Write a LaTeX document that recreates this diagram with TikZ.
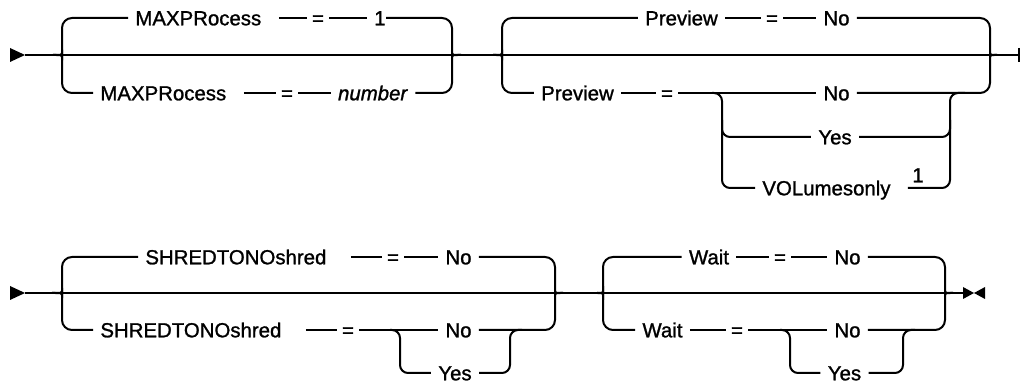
\documentclass[tikz,border=0pt]{standalone}
\usepackage{fontspec}
\setmainfont{Liberation Sans}[FakeBold=1.2]
\tikzset{
  rail/.style={line width=1pt},
  turn/.style={rail, rounded corners=5pt},
  nest/.style={rail, rounded corners=4pt},
  kw/.style={inner xsep=3.5pt, inner ysep=0pt, text height=7.3pt, text depth=0pt, font=\fontsize{10.2}{12}\selectfont},
  sym/.style={kw, inner xsep=2.5pt},
}
\begin{document}
\begin{tikzpicture}[x=0.5pt, y=-0.5pt]
	\useasboundingbox (0,0) rectangle (1021,383);

	% row one: MAXPRocess and Preview
	\fill (10,48) -- (25,55) -- (10,62) -- cycle;
	\coordinate (start1) at (25,55);
	\coordinate (g1l) at (53,55);
	\coordinate (g1r) at (461,55);
	\coordinate (g2l) at (493,55);
	\coordinate (g2r) at (997,55);
	\coordinate (end1) at (1019,55);

	\node[kw, text width=68pt, align=left, anchor=west](maxA) at (128,18){MAXPRocess};
	\node[sym](eqA) at (318,18){=};
	\node[kw, inner xsep=0pt, text width=9pt, align=right, anchor=east](oneA) at (386,18){1};
	\node[kw, text width=68pt, align=left, anchor=west](maxB) at (93,93){MAXPRocess};
	\node[sym](eqB) at (287,93){=};
	\node[kw](numB) at (373,93){\textit{number}};

	\node[kw](prevA) at (681.5,18){Preview};
	\node[sym](eqC) at (772,18){=};
	\node[kw](noA) at (836.5,18){No};
	\node[kw](prevB) at (577.5,93){Preview};
	\node[sym](eqD) at (667,93){=};
	\coordinate (sp1) at (712,93);
	\node[kw](noB) at (836.5,93){No};
	\node[kw](yesA) at (835,137){Yes};
	\node[kw, text width=69pt, align=left, anchor=west](volA) at (755,188){VOLumesonly};
	\node[kw](fnA) at (918,175){1};
	\coordinate (jn1) at (965,93);

	% main line
	\draw[rail] (start1) -- (g1l) -- (g1r) -- (g2l) -- (g2r) -- (end1);
	\draw[rail] (1019,48) -- (1019,62);

	% braces
	\draw[turn] (g1l) .. controls (62,55) .. (62,47) -- (62,18) -- (maxA);
	\draw[turn] (g1l) .. controls (62,55) .. (62,63) -- (62,93) -- (maxB);
	\draw[turn] (oneA) -- (452,18) -- (452,47) .. controls (452,55) .. (g1r);
	\draw[turn] (numB) -- (452,93) -- (452,63) .. controls (452,55) .. (g1r);
	\draw[turn] (g2l) .. controls (502,55) .. (502,47) -- (502,18) -- (prevA);
	\draw[turn] (g2l) .. controls (502,55) .. (502,63) -- (502,93) -- (prevB);
	\draw[turn] (noA) -- (990,18) -- (990,47) .. controls (990,55) .. (g2r);
	\draw[turn] (noB) -- (990,93) -- (990,63) .. controls (990,55) .. (g2r);

	% rails
	\draw[rail] (maxA) -- (eqA) -- (oneA);
	\draw[rail] (maxB) -- (eqB) -- (numB);
	\draw[rail] (prevA) -- (eqC) -- (noA);
	\draw[rail] (prevB) -- (eqD) -- (sp1) -- (noB);
	\draw[nest] (sp1) -- (722,93) -- (722,188) -- (volA);
	\draw[nest] (722,120) -- (722,137) -- (yesA);
	\draw[nest] (volA) -- (950,188) -- (950,93) -- (jn1);
	\draw[nest] (yesA) -- (950,137) -- (950,120);

	% row two: SHREDTONOshred and Wait
	\fill (10,286) -- (25,293) -- (10,300) -- cycle;
	\coordinate (start2) at (25,293);
	\coordinate (g3l) at (52,293);
	\coordinate (g3r) at (563,293);
	\coordinate (g4l) at (597,293);
	\coordinate (g4r) at (953,293);
	\coordinate (end2) at (963,293);

	\node[kw, text width=99pt, align=left, anchor=west](shrA) at (138,257){SHREDTONOshred};
	\node[sym](eqE) at (393,257){=};
	\node[kw](noC) at (458.5,257){No};
	\node[kw, text width=99pt, align=left, anchor=west](shrB) at (93,330){SHREDTONOshred};
	\node[sym](eqF) at (348,330){=};
	\coordinate (sp3) at (390,330);
	\node[kw](noD) at (458.5,330){No};
	\node[kw](yesB) at (455,373){Yes};
	\coordinate (jn2) at (522,330);

	\node[kw](waitA) at (709,257){Wait};
	\node[sym](eqG) at (780,257){=};
	\node[kw](noE) at (847.5,257){No};
	\node[kw](waitB) at (662.5,330){Wait};
	\node[sym](eqH) at (737,330){=};
	\coordinate (sp4) at (780,330);
	\node[kw](noF) at (847.5,330){No};
	\node[kw](yesC) at (844.5,373){Yes};
	\coordinate (jn3) at (915,330);

	% main line
	\draw[rail] (start2) -- (g3l) -- (g3r) -- (g4l) -- (g4r) -- (end2);
	\fill (963,287) -- (974,293) -- (963,299) -- cycle;
	\fill (985,287) -- (974,293) -- (985,299) -- cycle;

	% braces
	\draw[turn] (g3l) .. controls (62,293) .. (62,285) -- (62,257) -- (shrA);
	\draw[turn] (g3l) .. controls (62,293) .. (62,301) -- (62,330) -- (shrB);
	\draw[turn] (noC) -- (555,257) -- (555,285) .. controls (555,293) .. (g3r);
	\draw[turn] (noD) -- (555,330) -- (555,301) .. controls (555,293) .. (g3r);
	\draw[turn] (g4l) .. controls (603,293) .. (603,285) -- (603,257) -- (waitA);
	\draw[turn] (g4l) .. controls (603,293) .. (603,301) -- (603,330) -- (waitB);
	\draw[turn] (noE) -- (945,257) -- (945,285) .. controls (945,293) .. (g4r);
	\draw[turn] (noF) -- (945,330) -- (945,301) .. controls (945,293) .. (g4r);

	% rails
	\draw[rail] (shrA) -- (eqE) -- (noC);
	\draw[rail] (shrB) -- (eqF) -- (sp3) -- (noD);
	\draw[nest] (sp3) -- (400,330) -- (400,373) -- (yesB);
	\draw[nest] (yesB) -- (510,373) -- (510,330) -- (jn2);
	\draw[rail] (waitA) -- (eqG) -- (noE);
	\draw[rail] (waitB) -- (eqH) -- (sp4) -- (noF);
	\draw[nest] (sp4) -- (790,330) -- (790,373) -- (yesC);
	\draw[nest] (yesC) -- (903,373) -- (903,330) -- (jn3);
\end{tikzpicture}
\end{document}
